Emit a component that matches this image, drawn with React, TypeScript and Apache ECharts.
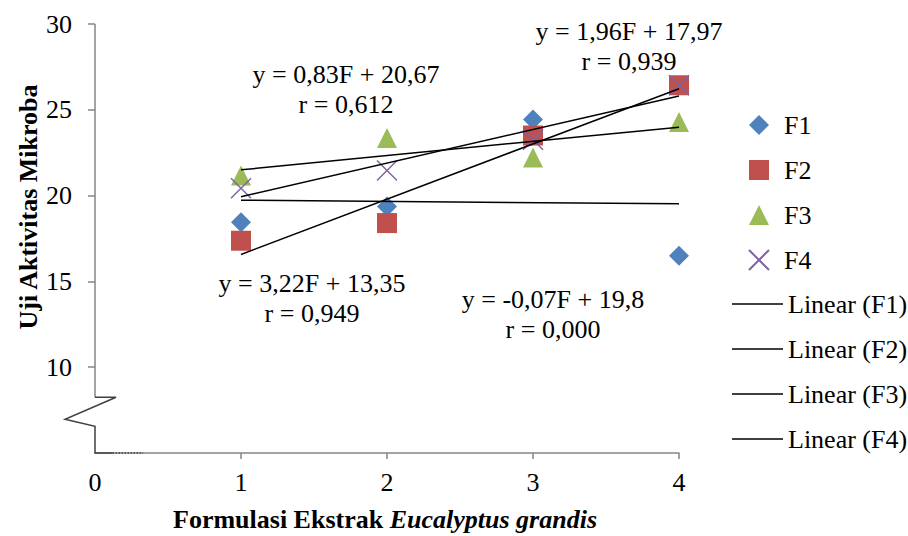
import React, { useEffect, useRef } from 'react';
import * as echarts from 'echarts';

const xValues = [1, 2, 3, 4];
const xTickLabels = [0, 1, 2, 3, 4];
const yTickLabels = [10, 15, 20, 25, 30];
const seriesNames = ['F1', 'F2', 'F3', 'F4'];
const f1 = [18.44, 19.36, 24.43, 16.49];
const f2 = [17.37, 18.4, 23.5, 26.43];
const f3 = [21.17, 23.36, 22.22, 24.29];
const f4 = [20.43, 21.46, 23.26, 26.43];
const slopes = [-0.07, 3.22, 0.83, 1.96];
const intercepts = [19.8, 13.35, 20.67, 17.97];
const rValues = ['0,000', '0,949', '0,612', '0,939'];

const FONT = 'Liberation Serif';
const colors = ['#4F81BD', '#C0504D', '#9BBB59', '#8064A2'];
const symbols = ['diamond', 'rect', 'triangle', 'path://M0,0L10,10M10,0L0,10'];
const labelPos = [
  [553, 314],
  [312, 298],
  [346, 89],
  [629, 46],
];
// broken-axis decoration, in data units
const axisTop = [[0, 30], [0, 8.25]];
const zigzag = [[0, 8.25], [0.144, 8.25], [-0.205, 6.97], [0, 6.56], [0, 5], [0.12, 5]];
const dotted = [[0.12, 5], [0.33, 5]];

const fmt = (v: number) => String(v).replace('.', ',');

export default function App() {
  const ref = useRef<HTMLDivElement>(null);
  useEffect(() => {
    if (!ref.current) return;
    const chart = echarts.init(ref.current, undefined, { renderer: 'svg' });
    const values = [f1, f2, f3, f4];
    const scatter = seriesNames.map((name, i) => ({
      name,
      type: 'scatter',
      data: xValues.map((x, j) => [x, values[i][j]]),
      symbol: symbols[i],
      symbolSize: 20,
      itemStyle: i === 3
        ? { color: colors[i], borderColor: colors[i], borderWidth: 1.5, opacity: 1 }
        : { color: colors[i], opacity: 1 },
      z: 3,
    }));
    const trends = seriesNames.map((name, i) => ({
      name: `Linear (${name})`,
      type: 'line',
      data: [xValues[0], xValues[xValues.length - 1]].map((x) => [x, intercepts[i] + slopes[i] * x]),
      symbol: 'none',
      lineStyle: { color: '#000', width: 1.5 },
      itemStyle: { color: '#000' },
      z: 4,
    }));
    const labels: any[] = seriesNames.map((_, i) => ({
      type: 'text',
      x: labelPos[i][0],
      y: labelPos[i][1],
      style: {
        text: `y = ${fmt(slopes[i])}F + ${fmt(intercepts[i])}\nr = ${rValues[i]}`,
        fill: '#000',
        fontFamily: FONT,
        fontSize: 26,
        lineHeight: 30,
        align: 'center',
        verticalAlign: 'middle',
      },
      z: 10,
    }));
    const titles: any[] = [
      {
        type: 'text',
        x: 385,
        y: 519,
        style: {
          text: '{a|Formulasi Ekstrak }{b|Eucalyptus grandis}',
          rich: {
            a: { font: 'bold 26px "Liberation Serif"', fill: '#000' },
            b: { font: 'italic bold 26px "Liberation Serif"', fill: '#000' },
          },
          align: 'center',
          verticalAlign: 'middle',
        },
      },
      {
        type: 'text',
        x: 28,
        y: 207,
        rotation: Math.PI / 2,
        style: {
          text: 'Uji Aktivitas Mikroba',
          fill: '#000',
          fontFamily: FONT,
          fontSize: 26,
          fontWeight: 'bold',
          align: 'center',
          verticalAlign: 'middle',
        },
      },
    ];
    const legendText = { fontFamily: FONT, fontSize: 26, color: '#000' };
    chart.setOption({
      animation: false,
      grid: { left: 95, right: 229, top: 24, bottom: 83 },
      xAxis: {
        type: 'value',
        min: 0,
        max: 4,
        interval: 1,
        splitLine: { show: false },
        axisLine: { lineStyle: { color: '#868686', width: 1.5 } },
        axisTick: { show: true, length: 6, lineStyle: { color: '#868686', width: 1.5 }, customValues: [1, 2, 3, 4] },
        axisLabel: { customValues: xTickLabels, fontFamily: FONT, fontSize: 26, color: '#000', margin: 16 },
      },
      yAxis: {
        type: 'value',
        min: 5,
        max: 30,
        interval: 5,
        splitLine: { show: false },
        axisLine: { show: false },
        axisTick: { show: true, length: 7, lineStyle: { color: '#868686', width: 1.5 }, customValues: yTickLabels },
        axisLabel: { customValues: yTickLabels, fontFamily: FONT, fontSize: 26, color: '#000', margin: 23 },
      },
      legend: [
        {
          orient: 'vertical',
          left: 743,
          top: 107,
          itemWidth: 20,
          itemHeight: 20,
          itemGap: 19,
          textStyle: { ...legendText, padding: [0, 0, 0, 10] },
          data: seriesNames,
        },
        {
          orient: 'vertical',
          left: 727,
          top: 286,
          itemWidth: 51,
          itemHeight: 1.5,
          itemGap: 19,
          icon: 'rect',
          textStyle: legendText,
          data: seriesNames.map((n) => `Linear (${n})`),
        },
      ],
      graphic: [...labels, ...titles],
      series: [...scatter, ...trends],
    });
    const px = (pts: number[][]) => pts.map((p) => chart.convertToPixel({ gridIndex: 0 }, p) as number[]);
    chart.setOption({
      graphic: [
        ...labels,
        ...titles,
        { type: 'polyline', shape: { points: px(axisTop) }, style: { stroke: '#868686', lineWidth: 1.5, fill: null }, z: 5 },
        { type: 'polyline', shape: { points: px(zigzag) }, style: { stroke: '#404040', lineWidth: 1.5, fill: null }, z: 5 },
        { type: 'polyline', shape: { points: px(dotted) }, style: { stroke: '#404040', lineWidth: 1.5, lineDash: [1.5, 1.5], fill: null }, z: 5 },
      ],
    });
    return () => chart.dispose();
  }, []);
  return (
    <div
      ref={ref}
      style={{ position: 'fixed', left: 0, top: 0, width: 908, height: 536, background: '#fff' }}
    />
  );
}
